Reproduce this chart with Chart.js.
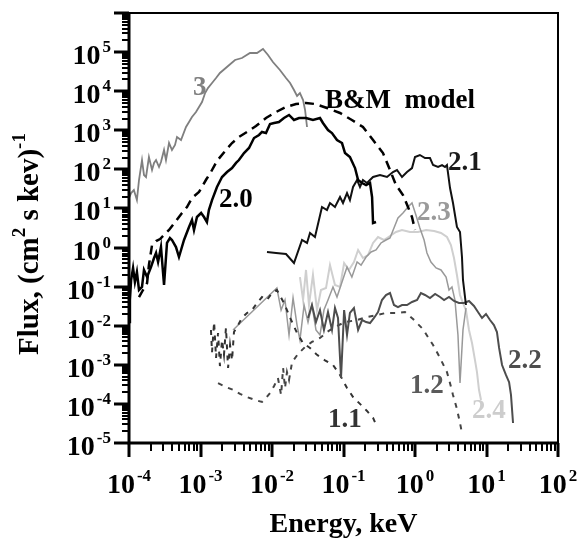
<!DOCTYPE html>
<html>
<head>
<meta charset="utf-8">
<script src="https://cdn.jsdelivr.net/npm/chart.js@4"></script>
<style>
  body { margin: 0; background: #fff; }
  canvas { display: block; }
</style>
</head>
<body>
<canvas id="chart" width="579" height="539"></canvas>
<script>
// energy (keV), flux pairs
var curve3 = [[1.0e-4,18.5],[1.07e-4,24.8],[1.17e-4,29.6],[1.29e-4,16.4],[1.38e-4,53.4],[1.52e-4,173],[1.62e-4,71.8],[1.73e-4,63.8],[1.9e-4,207],[2.1e-4,96.4],
  [2.24e-4,146],[2.39e-4,173],[2.63e-4,115],[2.8e-4,154],[3.09e-4,313],[3.29e-4,173],[3.63e-4,472],[3.99e-4,313],[4.4e-4,420],[4.69e-4,673],
  [5.34e-4,564],[6.27e-4,1213],[6.91e-4,1629],[7.6e-4,2188],[8.65e-4,2933],[9.53e-4,3936],[1.05e-3,5284],[1.16e-3,8977],[1.27e-3,1.2e4],[1.45e-3,1.62e4],
  [1.65e-3,2.17e4],[1.87e-3,2.92e4],[2.43e-3,4.41e4],[3.04e-3,6.28e4],[3.8e-3,7.06e4],[4.92e-3,9.48e4],[6.17e-3,9.48e4],[7.48e-3,1.2e5],[8.79e-3,8.43e4],[1.03e-2,5.57e4],
  [1.29e-2,3.48e4],[1.57e-2,2.17e4],[1.79e-2,1.62e4],[2.03e-2,1.07e4],[2.24e-2,7530],[2.46e-2,8977],[2.72e-2,5940],[2.9e-2,3300],[3.09e-2,1213]];

var curve20 = [[1.0e-4,0.0124],[1.03e-4,0.0455],[1.07e-4,0.148],[1.14e-4,0.30],[1.21e-4,0.131],[1.29e-4,0.237],[1.38e-4,0.082],[1.52e-4,0.098],[1.62e-4,0.267],[1.79e-4,0.176],
  [2.03e-4,0.318],[2.24e-4,0.54],[2.39e-4,0.724],[2.55e-4,0.427],[2.8e-4,1.03],[3.09e-4,0.11],[3.4e-4,1.31],[3.74e-4,1.75],[3.99e-4,1.56],[4.54e-4,1.03],
  [5.0e-4,0.573],[5.88e-4,1.56],[6.91e-4,3.36],[7.6e-4,5.07],[8.11e-4,2.81],[8.93e-4,6.04],[1.02e-3,7.65],[1.12e-3,6.04],[1.23e-3,4.5],[1.31e-3,9.12],
  [1.45e-3,16.4],[1.7e-3,35.4],[2.0e-3,63.8],[2.35e-3,85.5],[2.76e-3,108],[3.14e-3,146],[3.45e-3,173],[4.06e-3,262],[4.77e-3,352],[5.6e-3,634],
  [6.58e-3,757],[7.24e-3,904],[8.24e-3,851],[9.38e-3,1445],[1.07e-2,1535],[1.25e-2,1629],[1.47e-2,2061],[1.73e-2,2460],[2.03e-2,1832],[2.39e-2,2061],
  [2.99e-2,2061],[3.74e-2,1832],[4.69e-2,2061],[5.16e-2,1535],[6.07e-2,1016],[6.9e-2,851],[8.11e-2,564],[9.53e-2,472],[0.105,262],[0.123,207],
  [0.145,108],[0.16,53.4],[0.182,44.8],[0.207,39.8],[0.235,44.8],[0.251,19.6],[0.259,4.25],[0.285,4.5]];

var curveBM = [[1.38e-4,0.054],[1.57e-4,0.082],[1.79e-4,0.124],[1.9e-4,0.357],[2.1e-4,1.16],[2.39e-4,1.47],[2.72e-4,1.65],[3.19e-4,2.22],[3.63e-4,2.81],[4.54e-4,4.77],
  [5.51e-4,7.65],[6.47e-4,10.9],[7.6e-4,18.5],[9.53e-4,26.4],[1.19e-3,53.4],[1.4e-3,85.5],[1.7e-3,164],[2.27e-3,313],[2.76e-3,472],[3.45e-3,673],
  [4.47e-3,904],[5.97e-3,1285],[8.24e-3,2061],[1.14e-2,2933],[1.57e-2,3936],[2.17e-2,4699],[2.99e-2,4989],[3.99e-2,4699],[5.87e-2,3715],[8.94e-2,2767],
  [0.131,1832],[0.187,1213],[0.259,564],[0.357,262],[0.447,96.4],[0.542,39.8],[0.679,22.1],[0.798,10.9],[0.908,6.04],[1.0,2.81]];

var curve21 = [[8.51e-3,0.769],[1.14e-2,0.724],[1.57e-2,0.684],[2.03e-2,0.402],[2.63e-2,1.56],[3.09e-2,1.31],[3.4e-2,2.36],[3.99e-2,1.86],[5.0e-2,10.9],[5.87e-2,9.12],
  [6.47e-2,13.8],[7.6e-2,10.9],[8.94e-2,19.6],[9.84e-2,13.8],[0.112,24.8],[0.123,16.4],[0.136,35.4],[0.155,53.4],[0.17,35.4],[0.187,53.4],
  [0.213,44.8],[0.259,63.8],[0.324,71.8],[0.406,63.8],[0.492,85.5],[0.56,96.4],[0.658,63.8],[0.773,85.5],[0.908,108],[1.0,207],
  [1.17,233],[1.38,195],[1.62,195],[1.79,129],[2.1,115],[2.39,129],[2.63,115],[2.8,129],[3.09,33.3],[3.4,13.8],
  [3.86,3.36],[4.26,2.5],[4.54,0.573],[4.69,0.148],[5.16,0.0339]];

var curve22 = [[3.19e-2,0.0158],[3.62e-2,0.0339],[4.12e-2,0.0124],[4.69e-2,0.0252],[5.33e-2,0.0078],[6.07e-2,0.0224],[6.9e-2,0.0078],[7.6e-2,0.0284],[8.38e-2,0.0158],[9.23e-2,4.6e-4],
  [0.102,0.0252],[0.112,0.0058],[0.123,0.0212],[0.14,0.0284],[0.16,0.0078],[0.182,0.014],[0.207,0.0124],[0.235,0.0117],[0.267,0.0158],[0.304,0.0224],
  [0.345,0.0455],[0.393,0.0611],[0.447,0.0687],[0.508,0.0339],[0.578,0.0301],[0.658,0.0339],[0.773,0.0339],[0.908,0.0405],[1.07,0.0455],[1.21,0.0687],
  [1.38,0.0611],[1.62,0.0512],[1.91,0.0649],[2.24,0.0543],[2.55,0.0455],[2.99,0.0543],[3.51,0.043],[4.12,0.0381],[4.84,0.0381],[5.69,0.043],
  [6.68,0.032],[7.6,0.0224],[8.65,0.0158],[9.84,0.02],[11.2,0.014],[12.7,0.0104],[14.0,0.0069],[15.0,0.0027],[16.5,9.9e-4],[18.7,5.5e-4],
  [20.7,3.6e-4],[22.0,1.7e-4],[23.5,3.25e-5]];

var curve23 = [[2.85e-3,0.0078],[1.17e-2,0.092],[1.34e-2,0.0252],[1.52e-2,0.0455],[1.73e-2,0.0058],[1.97e-2,0.0512],[2.24e-2,0.0104],[2.46e-2,0.0043],[2.81e-2,0.0339],[3.19e-2,0.0124],
  [3.62e-2,0.0339],[4.12e-2,0.0078],[4.69e-2,0.0058],[5.33e-2,0.0252],[6.07e-2,0.0455],[7.13e-2,0.098],[8.11e-2,0.0543],[9.23e-2,0.11],[0.112,0.318],[0.131,0.176],
  [0.155,0.427],[0.176,0.357],[0.207,0.573],[0.243,0.769],[0.285,0.865],[0.334,1.31],[0.393,1.56],[0.447,1.75],[0.508,3.16],[0.578,5.7],
  [0.679,7.65],[0.798,10.9],[0.908,13.8],[1.03,6.8],[1.17,3.16],[1.34,1.56],[1.47,0.724],[1.67,0.427],[1.97,0.3],[2.31,0.267],
  [2.72,0.176],[2.99,0.082],[3.29,0.098],[3.62,0.0455],[3.99,0.0058],[4.26,3.43e-4],[4.69,0.0078],[5.16,0.0284]];

var curve24 = [[2.46e-2,0.176],[2.72e-2,0.0455],[2.99e-2,0.267],[3.29e-2,0.0339],[3.74e-2,0.199],[4.26e-2,0.0252],[4.84e-2,0.082],[5.69e-2,0.092],[6.47e-2,0.357],[7.6e-2,0.11],
  [8.94e-2,0.098],[0.102,0.402],[0.119,0.267],[0.14,0.427],[0.16,0.865],[0.187,0.54],[0.22,0.644],[0.259,1.31],[0.304,1.86],[0.368,1.56],
  [0.447,1.97],[0.542,2.5],[0.658,2.81],[0.851,2.5],[1.1,2.5],[1.43,2.81],[1.85,2.65],[2.31,2.36],[2.8,1.86],[3.18,1.16],
  [3.51,0.54],[3.86,0.199],[4.26,0.0611],[4.69,0.0381],[5.16,0.0252],[5.69,0.0078],[6.27,0.0036],[6.91,0.0013],[7.36,6.5e-4],[7.85,2.3e-4],[8.38,1.26e-4]];

var curve11 = [[1.4e-3,0.0078],[1.45e-3,0.0021],[1.55e-3,0.0124],[1.65e-3,0.0015],[1.76e-3,0.0065],[1.87e-3,9.3e-4],[2.0e-3,0.0043],[2.13e-3,0.0018],[2.27e-3,0.0088],[2.43e-3,8.3e-4],
  [2.59e-3,0.0032],[2.76e-3,0.0013],[2.94e-3,0.0069],[3.24e-3,0.0093],[3.8e-3,0.0158],[4.47e-3,0.0212],[5.25e-3,0.0252],[6.17e-3,0.0381],[7.24e-3,0.0543],[8.51e-3,0.0455],
  [1.0e-2,0.0687],[1.17e-2,0.082],[1.47e-2,0.0381],[1.85e-2,0.014],[2.24e-2,0.0065],[2.72e-2,0.0036],[3.4e-2,0.0027],[4.26e-2,0.0018],[5.51e-2,0.0013],[7.13e-2,9.9e-4],
  [8.94e-2,5.5e-4],[0.112,2.55e-4],[0.136,1.5e-4],[0.17,1.0e-4],[0.213,6.6e-5],[0.259,4.4e-5],[0.294,2.6e-5]];

var curve12 = [[1.76e-3,3.4e-4],[2.27e-3,2.7e-4],[2.85e-3,2.3e-4],[3.57e-3,1.8e-4],[4.47e-3,1.5e-4],[5.78e-3,1.26e-4],[7.24e-3,1.12e-4],[8.24e-3,1.42e-4],[9.38e-3,1.9e-4],[1.07e-2,2.87e-4],
  [1.21e-2,4.6e-4],[1.34e-2,1.7e-4],[1.43e-2,8.3e-4],[1.52e-2,2.55e-4],[1.62e-2,6.5e-4],[1.73e-2,4.1e-4],[1.91e-2,0.00118],[2.31e-2,0.00189],[2.9e-2,0.00286],[3.62e-2,0.00384],
  [4.69e-2,0.00485],[5.87e-2,0.0069],[7.6e-2,0.0093],[0.105,0.0124],[0.155,0.014],[0.213,0.0167],[0.294,0.0188],[0.393,0.0212],[0.56,0.0212],[0.724,0.0224],
  [0.938,0.0149],[1.29,0.0082],[1.79,0.0032],[2.24,0.0015],[2.8,6.5e-4],[3.09,3.4e-4],[3.4,1.7e-4],[3.86,7.4e-5],[4.26,3.25e-5],[4.54,1.8e-5]];

// axis decades (exponents of 10)
var xExps = [-4, -3, -2, -1, 0, 1, 2];
var yExps = [-5, -4, -3, -2, -1, 0, 1, 2, 3, 4, 5];

// curve labels: text, energy, flux (left / baseline)
var curveLabels = [
  ["3", 7.85e-4, 7.98e3, "#808080"],
  ["B&M  model", 5.51e-2, 3.7e3, "#000"],
  ["2.0", 1.82e-3, 10.9, "#000"],
  ["2.1", 2.9, 96.4, "#1a1a1a"],
  ["2.3", 1.07, 5.07, "#9a9a9a"],
  ["2.2", 20.0, 8.3e-4, "#4d4d4d"],
  ["1.2", 0.851, 1.9e-4, "#5a5a5a"],
  ["1.1", 6.07e-2, 2.57e-5, "#333"],
  ["2.4", 6.27, 4.36e-5, "#cdcdcd"]
];

var SERIF = '"Liberation Serif", "Times New Roman", serif';
var BIG = 'bold 28px ' + SERIF;
var SMALL = 'bold 17px ' + SERIF;
var LABEL = 'bold 27px ' + SERIF;
var TITLE = 'bold 29px ' + SERIF;
var TITLE_SUP = 'bold 19px ' + SERIF;

function powLabel(ctx, exp, x, y, align) {
  ctx.font = BIG;
  var wb = ctx.measureText("10").width;
  ctx.font = SMALL;
  var sup = String(exp);
  var ws = ctx.measureText(sup).width;
  var total = wb + 2 + ws;
  var left = align == "right" ? x - total : x - total / 2;
  ctx.font = BIG;
  ctx.fillText("10", left, y);
  ctx.font = SMALL;
  ctx.fillText(sup, left + wb + 2, y - 12);
}

var frame = {
  id: "frame",
  afterDatasetsDraw: function (chart) {
    var ctx = chart.ctx;
    var a = chart.chartArea;
    var sx = chart.scales.x, sy = chart.scales.y;
    ctx.save();
    ctx.strokeStyle = "#000";
    ctx.fillStyle = "#000";
    ctx.lineCap = "butt";

    // top + right border
    ctx.lineWidth = 2;
    ctx.beginPath();
    ctx.moveTo(a.left, a.top);
    ctx.lineTo(a.right, a.top);
    ctx.lineTo(a.right, a.bottom);
    ctx.stroke();

    // y ticks
    for (var e = -5; e <= 6; e++) {
      var py = Math.round(sy.getPixelForValue(Math.pow(10, e)));
      ctx.lineWidth = 3;
      ctx.beginPath(); ctx.moveTo(a.left - 15, py); ctx.lineTo(a.left, py); ctx.stroke();
      if (e < 6) {
        ctx.lineWidth = 2;
        for (var k = 2; k <= 9; k++) {
          var q = Math.round(sy.getPixelForValue(k * Math.pow(10, e)));
          ctx.beginPath(); ctx.moveTo(a.left - 7, q); ctx.lineTo(a.left, q); ctx.stroke();
        }
      }
    }
    // x ticks
    for (var e2 = -4; e2 <= 2; e2++) {
      var px = Math.round(sx.getPixelForValue(Math.pow(10, e2)));
      ctx.lineWidth = 3;
      ctx.beginPath(); ctx.moveTo(px, a.bottom); ctx.lineTo(px, a.bottom + 14); ctx.stroke();
      if (e2 < 2) {
        ctx.lineWidth = 2;
        for (var k2 = 2; k2 <= 9; k2++) {
          var r = Math.round(sx.getPixelForValue(k2 * Math.pow(10, e2)));
          ctx.beginPath(); ctx.moveTo(r, a.bottom); ctx.lineTo(r, a.bottom + 8); ctx.stroke();
        }
      }
    }

    // left + bottom axis
    ctx.lineWidth = 3;
    ctx.beginPath();
    ctx.moveTo(a.left, a.top - 1);
    ctx.lineTo(a.left, a.bottom);
    ctx.lineTo(a.right + 1, a.bottom);
    ctx.stroke();

    // tick labels
    ctx.textBaseline = "alphabetic";
    ctx.textAlign = "left";
    yExps.forEach(function (e) {
      var p = sy.getPixelForValue(Math.pow(10, e));
      powLabel(ctx, e, 111, p + 12, "right");
    });
    xExps.forEach(function (e) {
      var p = sx.getPixelForValue(Math.pow(10, e));
      powLabel(ctx, e, p, 493, "center");
    });

    // axis titles
    ctx.font = 'bold 28px ' + SERIF;
    ctx.textAlign = "center";
    ctx.fillText("Energy, keV", (a.left + a.right) / 2, 532);

    ctx.save();
    ctx.translate(38, 244);
    ctx.rotate(-Math.PI / 2);
    ctx.textAlign = "left";
    var parts = [["Flux, (cm", TITLE, 0], ["2", TITLE_SUP, -13], [" s kev)", TITLE, 0], ["-1", TITLE_SUP, -13]];
    var tot = 0;
    parts.forEach(function (p) { ctx.font = p[1]; tot += ctx.measureText(p[0]).width; });
    var cx = -tot / 2;
    parts.forEach(function (p) {
      ctx.font = p[1];
      ctx.fillText(p[0], cx, p[2]);
      cx += ctx.measureText(p[0]).width;
    });
    ctx.restore();

    // curve labels
    ctx.font = LABEL;
    ctx.textAlign = "left";
    curveLabels.forEach(function (l) {
      ctx.fillStyle = l[3];
      ctx.fillText(l[0], sx.getPixelForValue(l[1]), sy.getPixelForValue(l[2]));
    });
    ctx.restore();
  }
};

function line(data, color, width, dash) {
  return {
    data: data,
    borderColor: color,
    borderWidth: width,
    borderDash: dash || [],
    pointRadius: 0,
    fill: false,
    tension: 0
  };
}

new Chart(document.getElementById("chart"), {
  type: "line",
  data: {
    datasets: [
      line(curve20, "#000", 2.5),
      line(curveBM, "#000", 2.5, [9, 6]),
      line(curve21, "#111", 2),
      line(curve22, "#4d4d4d", 2),
      line(curve11, "#333", 2, [5, 6]),
      line(curve12, "#444", 2, [5, 6]),
      line(curve3, "#7f7f7f", 1.8),
      line(curve23, "#999", 1.5),
      line(curve24, "#cfcfcf", 2)
    ]
  },
  options: {
    responsive: false,
    animation: false,
    devicePixelRatio: 1,
    layout: { padding: { left: 129, top: 13, right: 21, bottom: 96 } },
    plugins: { legend: { display: false }, tooltip: { enabled: false } },
    scales: {
      x: { type: "logarithmic", min: 1e-4, max: 100, display: false },
      y: { type: "logarithmic", min: 1e-5, max: 1e6, display: false }
    }
  },
  plugins: [frame]
});
</script>
</body>
</html>
